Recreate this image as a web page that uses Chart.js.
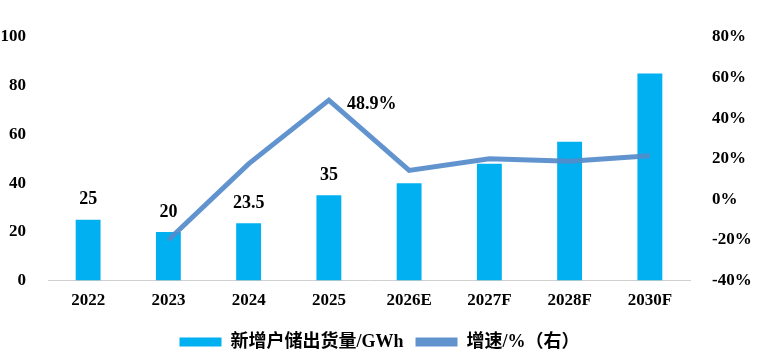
<!DOCTYPE html>
<html>
<head>
<meta charset="utf-8">
<script src="https://cdn.jsdelivr.net/npm/chart.js@4"></script>
<style>
  html, body { margin: 0; padding: 0; background: #fff; }
  #wrap { width: 759px; height: 361px; position: relative; }
</style>
</head>
<body>
<div id="wrap"><canvas id="storageChart"></canvas></div>
<script>
const years = ["2022", "2023", "2024", "2025", "2026E", "2027F", "2028F", "2030F"];
const shipments = [25, 20, 23.5, 35, 40, 48, 57, 85];
const growth = [null, -20, 17.5, 48.9, 14.3, 20, 18.8, 21.5];
const barLabels = ["25", "20", "23.5", "35"];
const growthLabel = "48.9%";

const serif = "'Liberation Serif', 'Times New Roman', 'Noto Sans CJK SC', serif";

const labelPlugin = {
  id: "valueLabels",
  afterDatasetsDraw(chart) {
    const ctx = chart.ctx;
    ctx.save();
    ctx.font = "bold 18px " + serif;
    ctx.fillStyle = "#000";
    ctx.textBaseline = "middle";
    ctx.textAlign = "center";
    const bars = chart.getDatasetMeta(0).data;
    for (let i = 0; i < barLabels.length; i++) {
      ctx.fillText(barLabels[i], bars[i].x, bars[i].y - 20);
    }
    const pts = chart.getDatasetMeta(1).data;
    ctx.textAlign = "left";
    ctx.fillText(growthLabel, pts[3].x + 18, pts[3].y + 4);
    ctx.restore();
  }
};

const ctx = document.getElementById("storageChart").getContext("2d");
new Chart(ctx, {
  type: "bar",
  data: {
    labels: years,
    datasets: [
      {
        type: "bar",
        label: "新增户储出货量/GWh",
        data: shipments,
        backgroundColor: "#00b0f0",
        borderWidth: 0,
        barPercentage: 0.31,
        categoryPercentage: 1,
        yAxisID: "y",
        order: 2
      },
      {
        type: "line",
        label: "增速/%（右）",
        data: growth,
        borderColor: "rgba(84,139,202,0.92)",
        backgroundColor: "rgba(84,139,202,0.92)",
        borderWidth: 5,
        pointRadius: 0,
        tension: 0,
        yAxisID: "y1",
        order: 1
      }
    ]
  },
  options: {
    responsive: true,
    maintainAspectRatio: false,
    animation: false,
    layout: { padding: { top: 37, right: 0, left: 0, bottom: 0 } },
    plugins: {
      tooltip: { enabled: false },
      legend: {
        position: "bottom",
        labels: {
          boxWidth: 42,
          boxHeight: 9,
          padding: 12,
          color: "#000",
          font: { family: serif, size: 18, weight: "bold" },
          generateLabels(chart) {
            return chart.data.datasets.map((ds, i) => ({
              text: ds.label,
              fillStyle: ds.backgroundColor,
              strokeStyle: ds.backgroundColor,
              lineWidth: 0,
              datasetIndex: i,
              hidden: false
            }));
          }
        }
      }
    },
    scales: {
      x: {
        grid: { display: false, drawTicks: false },
        border: { display: true, color: "#d0d0d0", width: 1 },
        ticks: {
          color: "#000",
          padding: 10,
          font: { family: serif, size: 17, weight: "bold" }
        }
      },
      y: {
        position: "left",
        min: 0,
        max: 100,
        grid: { display: false },
        border: { display: false },
        ticks: {
          stepSize: 20,
          color: "#000",
          padding: 14,
          font: { family: serif, size: 17, weight: "bold" }
        },
        afterFit(scale) { scale.width = 48; }
      },
      y1: {
        position: "right",
        min: -40,
        max: 80,
        grid: { display: false },
        border: { display: false },
        ticks: {
          stepSize: 20,
          color: "#000",
          padding: 14,
          font: { family: serif, size: 17, weight: "bold" },
          callback: v => v + "%"
        },
        afterFit(scale) { scale.width = 69; }
      }
    }
  },
  plugins: [labelPlugin]
});
</script>
</body>
</html>
